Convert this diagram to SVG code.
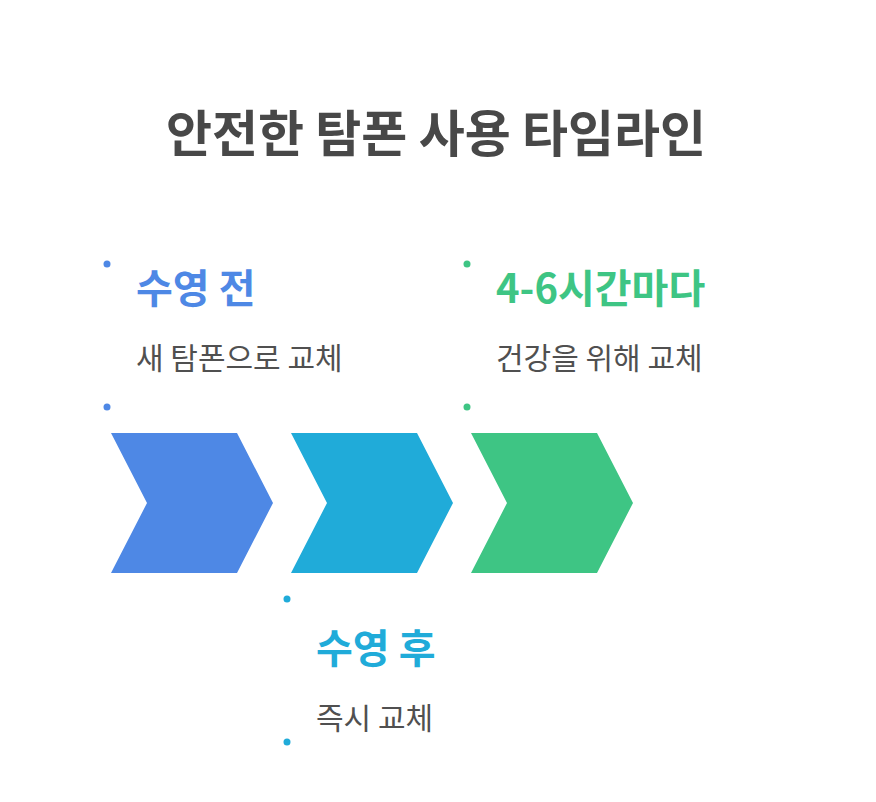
<svg xmlns="http://www.w3.org/2000/svg" width="876" height="802" viewBox="0 0 876 802">
<style>
text{font-family:"Noto Sans CJK KR","Noto Sans",sans-serif}
.title{font-size:50px;font-weight:700;fill:#484848}
.head{font-size:40px;font-weight:700}
.desc{font-size:30px;fill:#505050}
.blue{fill:#4E88E5}
.cyan{fill:#20ABD9}
.green{fill:#3EC584}
</style>
<rect width="876" height="802" fill="#ffffff"/>
<text class="title" x="436" y="152" text-anchor="middle">안전한 탐폰 사용 타임라인</text>
<g id="step1">
<path class="blue" d="M111 433H237L273 503L237 573H111L147 503Z"/>
<circle class="blue" cx="107" cy="264" r="3.5"/>
<circle class="blue" cx="107" cy="407" r="3.5"/>
<text class="head blue" x="136" y="303">수영 전</text>
<text class="desc" x="136" y="369">새 탐폰으로 교체</text>
</g>
<g id="step2">
<path class="cyan" d="M291 433H417L453 503L417 573H291L327 503Z"/>
<circle class="cyan" cx="287" cy="599" r="3.5"/>
<circle class="cyan" cx="287" cy="742" r="3.5"/>
<text class="head cyan" x="316" y="663">수영 후</text>
<text class="desc" x="316" y="729">즉시 교체</text>
</g>
<g id="step3">
<path class="green" d="M471 433H597L633 503L597 573H471L507 503Z"/>
<circle class="green" cx="467" cy="264" r="3.5"/>
<circle class="green" cx="467" cy="407" r="3.5"/>
<text class="head green" x="496" y="303">4-6시간마다</text>
<text class="desc" x="496" y="369">건강을 위해 교체</text>
</g>
<g id="connectors"/>
</svg>
